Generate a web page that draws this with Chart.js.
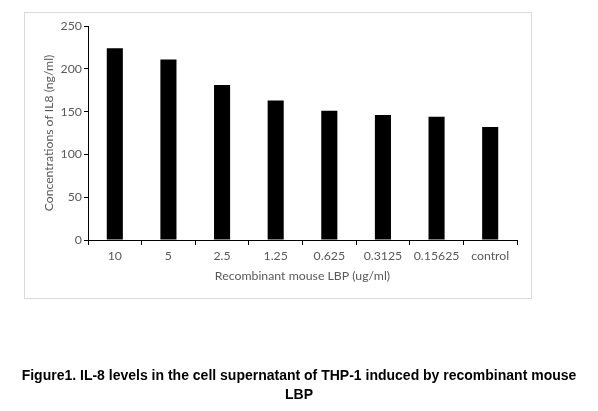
<!DOCTYPE html>
<html>
<head>
<meta charset="utf-8">
<script src="https://cdn.jsdelivr.net/npm/chart.js@4.4.1/dist/chart.umd.min.js"></script>
<style>
  html, body { margin: 0; padding: 0; background: #fff; }
  #wrap { position: relative; width: 598px; height: 411px; }
  #box { position: absolute; left: 24px; top: 12px; width: 506px; height: 285px; border: 1px solid #d9d9d9; }
  #c { position: absolute; left: 0; top: 0; }
  #caption { position: absolute; left: 0; top: 366px; width: 598px; text-align: center;
    font: bold 14px "Liberation Sans", Arial, sans-serif; line-height: 19px; color: #000; }
</style>
</head>
<body>
<div id="wrap">
  <div id="box"></div>
  <canvas id="c" width="598" height="411"></canvas>
  <div id="caption">Figure1. IL-8 levels in the cell supernatant of THP-1 induced by recombinant mouse<br>LBP</div>
</div>
<script>
const categorias = ['10', '5', '2.5', '1.25', '0.625', '0.3125', '0.15625', 'control'];
const valores = [224, 211, 181, 163, 151, 146, 144, 132];
const ticksY = [0, 50, 100, 150, 200, 250];

const gris = '#595959';
const fuente = { family: 'Lato, "Open Sans", sans-serif', size: 12.3 };

new Chart(document.getElementById('c').getContext('2d'), {
    type: 'bar',
    data: { labels: categorias, datasets: [{ data: valores, backgroundColor: '#000', categoryPercentage: 1, barPercentage: 0.3 }] },
    options: {
        responsive: false, animation: false,
        layout: { padding: { top: 26, right: 81, left: 0, bottom: 121 } },
        plugins: { legend: { display: false }, tooltip: { enabled: false } },
        scales: {
            x: {
                offset: true,
                grid: { offset: true, drawOnChartArea: false, color: '#000', tickLength: 5 },
                border: { color: '#000', width: 1 },
                ticks: { color: gris, font: fuente, padding: 4, maxRotation: 0 },
                title: { display: true, text: 'Recombinant mouse LBP (ug/ml)', color: gris, font: fuente, padding: { top: 0, bottom: 7 } },
                afterFit: s => { s.height = 50; }
            },
            y: {
                min: 0, max: 250,
                afterBuildTicks: s => { s.ticks = ticksY.map(v => ({ value: v })); },
                grid: { drawOnChartArea: false, color: '#000', tickLength: 4 },
                border: { color: '#000', width: 1 },
                ticks: { color: gris, font: fuente, padding: 2 },
                title: { display: true, text: 'Concentrations of IL8 (ng/ml)', color: gris, font: { family: fuente.family, size: 12.2 }, padding: { top: 42, bottom: 0 } },
                afterFit: s => { s.width = 88; }
            }
        }
    }
});
</script>
</body>
</html>
